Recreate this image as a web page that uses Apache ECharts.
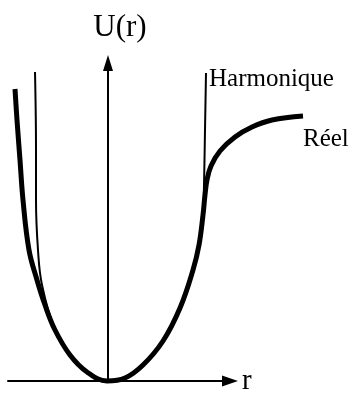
<!DOCTYPE html>
<html><head><meta charset="utf-8">
<script src="https://cdn.jsdelivr.net/npm/echarts@6/dist/echarts.min.js"></script>
<style>html,body{margin:0;padding:0;background:#fff}#c{width:351px;height:396px}</style>
</head><body><div id="c"></div>
<script>
// Axis names and curve labels
const axisNames = ['r', 'U(r)'];
const curveNames = ['Harmonique', 'Réel'];

const realR = [-9.3, -9.1, -8.8, -8.5, -7.9, -7.1, -6.3, -5.3, -3.8, -2.1, -0.1, 1.7, 3.5, 5.5, 7.2, 8.5, 9.1, 9.5, 9.7, 9.9, 10.3, 11.2, 12.7, 14.4, 16.4, 19.5];
const realU = [29.2, 26.1, 22.1, 18.1, 13.1, 10.1, 7.6, 5.1, 2.6, 0.9, 0.0, 0.3, 1.6, 4.0, 7.3, 11.1, 13.6, 16.6, 18.6, 20.1, 21.5, 23.0, 24.4, 25.4, 26.1, 26.5];

// Harmonic approximation
const harmR = [-7.3, -7.2, -7.2, -7.0, -6.6, -5.3, -3.8, -2.1, -0.1, 1.7, 3.5, 5.5, 7.2, 8.5, 9.1, 9.5, 9.6, 9.7, 9.8];
const harmU = [30.9, 23.1, 18.1, 13.1, 9.6, 5.1, 2.6, 0.9, 0.0, 0.3, 1.6, 4.0, 7.3, 11.1, 13.6, 16.6, 19.6, 25.1, 30.8];

// drawn axis extent and data area extent (same scale)
const rAxisRange = [-10, 12.2];
const rDataRange = [-10, 22.2];
const uRange = [0, 31.8];

const zip = (a, b) => a.map((v, i) => [v, b[i]]);
const serif = "'Liberation Serif', 'Times New Roman', serif";
const hidden = {axisLine: {show: false}, axisTick: {show: false}, axisLabel: {show: false}, splitLine: {show: false}};

const chart = echarts.init(document.getElementById('c'), null, {renderer: 'canvas'});
chart.setOption({
  animation: false,
  backgroundColor: '#fff',
  grid: [
    {left: 8, right: 21, top: 63, bottom: 15, containLabel: false},
    {left: 8, right: 121, top: 63, bottom: 15, containLabel: false}
  ],
  xAxis: [
    Object.assign({type: 'value', gridIndex: 0, min: rDataRange[0], max: rDataRange[1]}, hidden),
    {
      type: 'value', gridIndex: 1, min: rAxisRange[0], max: rAxisRange[1],
      name: axisNames[0], nameLocation: 'end', nameGap: 12,
      nameTextStyle: {fontFamily: serif, fontSize: 29, color: '#000', padding: [10, 0, 0, 0]},
      axisLine: {show: true, onZero: true, symbol: ['none', 'triangle'], symbolSize: [11, 16], lineStyle: {color: '#000', width: 2}},
      axisTick: {show: false}, axisLabel: {show: false}, splitLine: {show: false}
    }
  ],
  yAxis: [
    Object.assign({type: 'value', gridIndex: 0, min: uRange[0], max: uRange[1]}, hidden),
    {
      type: 'value', gridIndex: 1, min: uRange[0], max: uRange[1],
      name: axisNames[1], nameLocation: 'end', nameGap: 20,
      nameTextStyle: {fontFamily: serif, fontSize: 31, color: '#000', padding: [0, 0, 0, 24]},
      axisLine: {show: true, onZero: true, symbol: ['none', 'triangle'], symbolSize: [10, 16], lineStyle: {color: '#000', width: 2}},
      axisTick: {show: false}, axisLabel: {show: false}, splitLine: {show: false}
    }
  ],
  series: [
    {
      name: curveNames[0], type: 'line', xAxisIndex: 0, yAxisIndex: 0,
      data: zip(harmR, harmU), smooth: 0.4,
      showSymbol: false, clip: false, z: 2,
      lineStyle: {color: '#000', width: 2}
    },
    {
      name: curveNames[1], type: 'line', xAxisIndex: 0, yAxisIndex: 0,
      data: zip(realR, realU), smooth: 0.4,
      showSymbol: false, clip: false, z: 3,
      lineStyle: {color: '#000', width: 5}
    }
  ],
  graphic: [
    {type: 'text', left: 209, top: 67, style: {text: curveNames[0], font: '25px ' + serif, fill: '#000'}},
    {type: 'text', left: 303, top: 127, style: {text: curveNames[1], font: '25px ' + serif, fill: '#000'}}
  ]
});
</script>
</body></html>
